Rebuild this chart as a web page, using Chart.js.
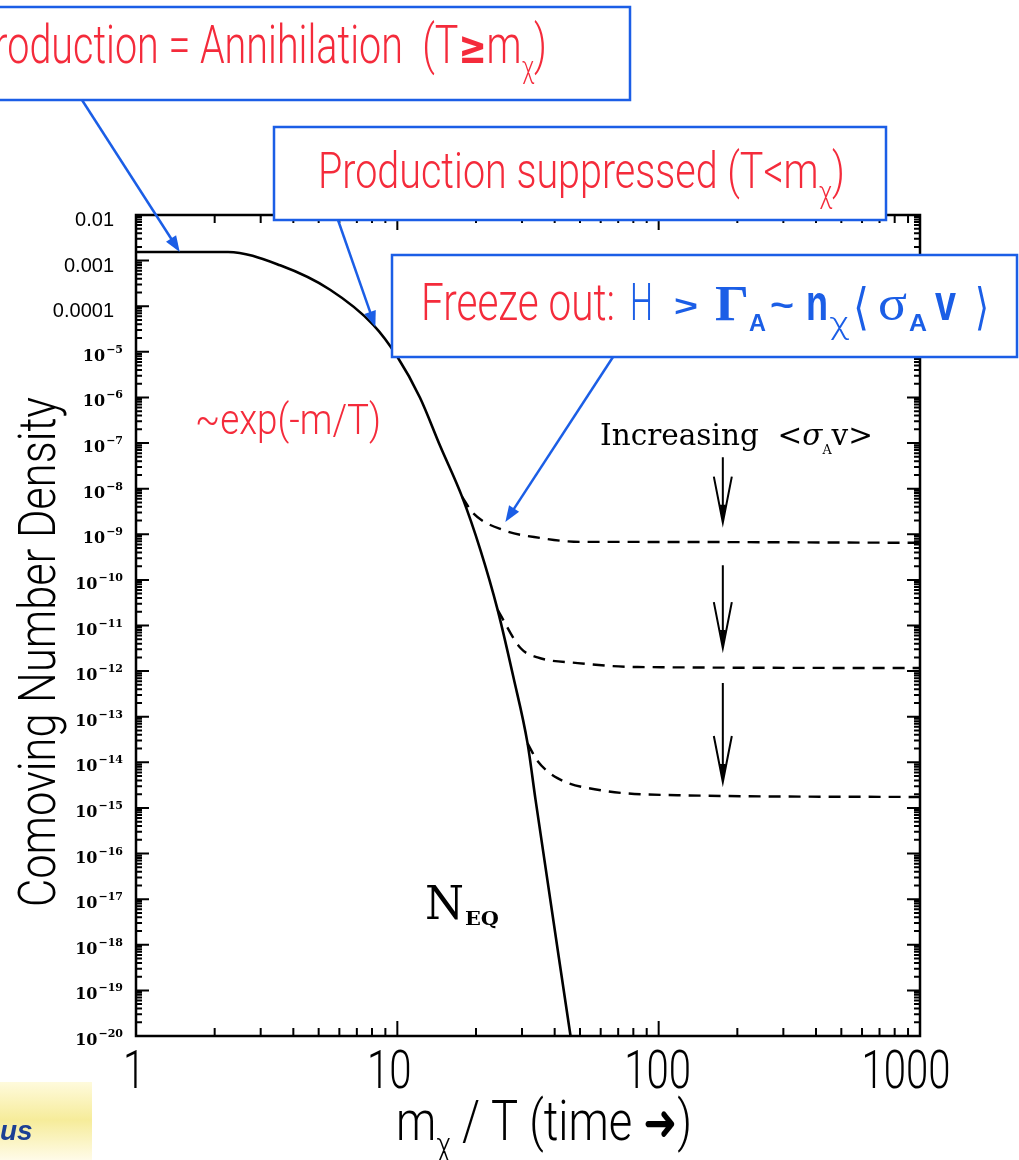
<!DOCTYPE html>
<html><head><meta charset="utf-8">
<script src="https://cdn.jsdelivr.net/npm/chart.js@4.4.1/dist/chart.umd.min.js"></script>
<style>html,body{margin:0;padding:0;background:#fff}#wrap{width:1019px;height:1160px}</style>
</head><body><div id="wrap"><canvas id="c" width="1019" height="1160"></canvas></div>
<script>
/* ---- data ---- */
// equilibrium curve N_EQ
const xEq = [1, 2.25, 3.56, 5.53, 8.09, 10, 12.2, 14.6, 17.7, 20.8, 24.2, 27.8, 31.5, 33.8, 46];
const yEq = [1.55e-3, 1.55e-3, 7.9e-4, 2.3e-4, 3.9e-5, 7.8e-6, 1.0e-6, 8.5e-8, 6.6e-9, 4.5e-10, 2.2e-11, 7.4e-13, 2.6e-14, 1.5e-15, 1e-20];
// freeze-out curves (dashed), increasing <sigma v>
const xFo1 = [17.7, 19.5, 25.5, 35.3, 50.2, 73.5, 1000];
const yFo1 = [6.6e-9, 2.9e-9, 1.23e-9, 8.3e-10, 6.8e-10, 6.8e-10, 6.5e-10];
const xFo2 = [24.2, 29.6, 34.4, 49, 83, 1000];
const yFo2 = [2.2e-11, 3.2e-12, 2.0e-12, 1.5e-12, 1.23e-12, 1.17e-12];
const xFo3 = [31.5, 34.4, 41, 60, 118, 1000];
const yFo3 = [2.6e-14, 1.07e-14, 4.5e-15, 2.45e-15, 1.9e-15, 1.74e-15];

// axis ticks
const xTicks = [1, 10, 100, 1000];
const xTickLabels = ['1', '10', '100', '1000'];
const yExps = [-2, -3, -4, -5, -6, -7, -8, -9, -10, -11, -12, -13, -14, -15, -16, -17, -18, -19, -20];

// arrows pointing into the plot (data coords)
const arrowX = 176;
const arrowsY = [[4.9e-8, 1.8e-9], [2.1e-10, 3.2e-12], [5.5e-13, 3.7e-15]];

/* ---- styles ---- */
const BLUE = '#1b5ee6', RED = '#f42b3b';
const NARROW = 'Roboto, "Liberation Sans", sans-serif';
const SERIF = '"DejaVu Serif", "Liberation Serif", serif';
const $ = id => document.getElementById(id);
const pts = (xs, ys) => xs.map((x, i) => ({x, y: ys[i]}));
const F = s => '300 ' + s + 'px ' + NARROW;

function runsWidth(ctx, runs){
  let w = 0;
  for (const r of runs){ ctx.font = r.font; w += ctx.measureText(r.t).width; }
  return w;
}
// runs drawn one after the other, squeezed to fit a width
function drawRuns(ctx, runs, x, y, width){
  const sx = width ? width / runsWidth(ctx, runs) : 1;
  ctx.save(); ctx.translate(x, y); ctx.scale(sx, 1);
  ctx.textAlign = 'left'; ctx.textBaseline = 'alphabetic';
  let cx = 0;
  for (const r of runs){
    ctx.font = r.font; ctx.fillStyle = r.color || '#000';
    ctx.fillText(r.t, cx, r.dy || 0);
    cx += ctx.measureText(r.t).width;
  }
  ctx.restore();
}
// each piece placed at its own x and width
function drawPieces(ctx, pieces, y){
  ctx.textAlign = 'left'; ctx.textBaseline = 'alphabetic';
  for (const p of pieces){
    ctx.font = p.font; ctx.fillStyle = p.color || '#000';
    const s = p.w / ctx.measureText(p.t).width;
    ctx.save(); ctx.translate(p.x, y + (p.dy || 0)); ctx.scale(s, 1);
    ctx.fillText(p.t, 0, 0); ctx.restore();
  }
}
function arrowLine(ctx, x0, y0, x1, y1, col){
  const a = Math.atan2(y1 - y0, x1 - x0), L = 16, W = 6;
  ctx.strokeStyle = col; ctx.fillStyle = col; ctx.lineWidth = 2.5;
  ctx.beginPath(); ctx.moveTo(x0, y0);
  ctx.lineTo(x1 - L * 0.7 * Math.cos(a), y1 - L * 0.7 * Math.sin(a)); ctx.stroke();
  ctx.beginPath(); ctx.moveTo(x1, y1);
  ctx.lineTo(x1 - L * Math.cos(a) + W * Math.sin(a), y1 - L * Math.sin(a) - W * Math.cos(a));
  ctx.lineTo(x1 - L * Math.cos(a) - W * Math.sin(a), y1 - L * Math.sin(a) + W * Math.cos(a));
  ctx.closePath(); ctx.fill();
}
function box(ctx, x, y, w, h){
  ctx.fillStyle = '#fff'; ctx.fillRect(x, y, w, h);
  ctx.strokeStyle = BLUE; ctx.lineWidth = 2.5; ctx.strokeRect(x, y, w, h);
}

/* ---- frame, ticks, labels, notes ---- */
const decor = {
  id: 'decor',
  afterDraw(chart){
    const ctx = chart.ctx, xs = chart.scales.x, ys = chart.scales.y, ca = chart.chartArea;
    ctx.save();
    ctx.strokeStyle = '#000'; ctx.lineWidth = 2.5;
    ctx.strokeRect(ca.left, ca.top, ca.right - ca.left, ca.bottom - ca.top);

    // x ticks (top + bottom, inward)
    ctx.lineWidth = 2;
    ctx.beginPath();
    for (let d = 1; d < 1000; d *= 10){
      for (let m = 1; m < 10; m++){
        const px = xs.getPixelForValue(d * m), len = m === 1 ? 15 : 8;
        ctx.moveTo(px, ca.bottom); ctx.lineTo(px, ca.bottom - len);
        ctx.moveTo(px, ca.top); ctx.lineTo(px, ca.top + len);
      }
    }
    // y ticks (left + right, inward)
    for (let e = -20; e < -2; e++){
      for (let m = 1; m < 10; m++){
        const py = ys.getPixelForValue(m * Math.pow(10, e)), len = m === 1 ? 13 : 6;
        ctx.moveTo(ca.left, py); ctx.lineTo(ca.left + len, py);
        ctx.moveTo(ca.right, py); ctx.lineTo(ca.right - len, py);
      }
    }
    ctx.stroke();

    // y tick labels
    ctx.fillStyle = '#000'; ctx.textBaseline = 'alphabetic';
    yExps.forEach(e => {
      const py = ys.getPixelForValue(Math.pow(10, e));
      if (e >= -4){
        ctx.font = '20px "Liberation Sans", sans-serif'; ctx.textAlign = 'right';
        ctx.fillText((Math.pow(10, e)).toFixed(-e), 114, py + 11);
      } else {
        const sup = '\u2212' + (-e);
        ctx.font = 'bold 11px ' + SERIF; ctx.textAlign = 'right';
        const sw = ctx.measureText(sup).width;
        ctx.fillText(sup, 123, py + 1);
        ctx.font = 'bold 16px ' + SERIF;
        ctx.fillText('10', 122 - sw, py + 9);
      }
    });

    // x tick labels (slide text, nudged as in the picture)
    const nudge = [-2, -8, -1, -14];
    ctx.font = F(53);
    const sxl = 89 / ctx.measureText('1000').width;
    xTicks.forEach((v, i) => {
      const px = xs.getPixelForValue(v) + nudge[i];
      ctx.save(); ctx.translate(px, 1088); ctx.scale(sxl, 1);
      ctx.textAlign = 'center'; ctx.fillStyle = '#000';
      ctx.fillText(xTickLabels[i], 0, 0); ctx.restore();
    });

    // axis titles
    drawRuns(ctx, [
      {t: 'm', font: F(56)}, {t: '\u03c7', font: F(34), dy: 16},
      {t: ' / T (time ', font: F(56)}, {t: '\u279c', font: 'bold 50px "DejaVu Sans"'}, {t: ')', font: F(56)}
    ], 396, 1140, 296);
    ctx.save(); ctx.translate(55, 907); ctx.rotate(-Math.PI / 2);
    drawRuns(ctx, [{t: 'Comoving Number Density', font: F(52)}], 0, 0, 510);
    ctx.restore();

    // in-plot notes
    drawRuns(ctx, [{t: '~exp(-m/T)', font: F(42), color: RED}], 195, 434, 186);
    drawRuns(ctx, [
      {t: 'Increasing  <', font: '30px ' + SERIF}, {t: '\u03c3', font: 'italic 30px ' + SERIF},
      {t: 'A', font: '13px ' + SERIF, dy: 9}, {t: 'v>', font: '30px ' + SERIF}
    ], 600, 445, 273);
    drawPieces(ctx, [
      {t: 'N', font: '46px ' + SERIF, x: 425, w: 39},
      {t: 'EQ', font: 'bold 18px ' + SERIF, x: 465, w: 34, dy: 6}
    ], 919);

    // down arrows
    const ax = xs.getPixelForValue(arrowX);
    ctx.strokeStyle = '#000'; ctx.lineWidth = 2;
    arrowsY.forEach(([y0, y1]) => {
      const p0 = ys.getPixelForValue(y0), p1 = ys.getPixelForValue(y1);
      ctx.beginPath(); ctx.moveTo(ax, p0); ctx.lineTo(ax, p1);
      ctx.moveTo(ax - 9, p1 - 46); ctx.lineTo(ax, p1); ctx.lineTo(ax + 9, p1 - 46);
      ctx.stroke();
      ctx.beginPath(); ctx.moveTo(ax - 3, p1 - 18); ctx.lineTo(ax, p1); ctx.lineTo(ax + 3, p1 - 18);
      ctx.closePath(); ctx.fillStyle = '#000'; ctx.fill();
    });

    // callout boxes
    box(ctx, -3, 7, 633, 93);
    drawRuns(ctx, [
      {t: 'Production = Annihilation  (T', font: F(54), color: RED},
      {t: '\u2265', font: 'bold 46px "DejaVu Sans"', color: RED},
      {t: 'm', font: F(54), color: RED}, {t: '\u03c7', font: F(32), color: RED, dy: 15},
      {t: ')', font: F(54), color: RED}
    ], -30, 63, 577);
    box(ctx, 274, 127, 612, 93);
    drawRuns(ctx, [
      {t: 'Production suppressed (T<m', font: F(50), color: RED},
      {t: '\u03c7', font: F(32), color: RED, dy: 15}, {t: ')', font: F(50), color: RED}
    ], 318, 188, 527);
    box(ctx, 392, 255, 625, 102);
    drawPieces(ctx, [
      {t: 'Freeze out:', font: F(51), color: RED, x: 421, w: 194},
      {t: 'H', font: F(51), color: BLUE, x: 630, w: 23},
      {t: '>', font: 'bold 30px "Liberation Sans"', color: BLUE, x: 674, w: 24, dy: -4},
      {t: '\u0393', font: 'bold 50px "Liberation Serif"', color: BLUE, x: 715, w: 34},
      {t: 'A', font: 'bold 24px "Liberation Sans"', color: BLUE, x: 749, w: 17, dy: 11},
      {t: '~', font: 'bold 34px "Liberation Sans"', color: BLUE, x: 770, w: 24, dy: -4},
      {t: 'n', font: 'bold 50px "Liberation Sans"', color: BLUE, x: 806, w: 22},
      {t: '\u03c7', font: F(31), color: BLUE, x: 829, w: 20, dy: 14},
      {t: '\u27e8', font: '50px "DejaVu Sans"', color: BLUE, x: 853, w: 16, dy: 4},
      {t: '\u03c3', font: '50px "Liberation Serif"', color: BLUE, x: 878, w: 29},
      {t: 'A', font: 'bold 24px "Liberation Sans"', color: BLUE, x: 909, w: 18, dy: 11},
      {t: 'v', font: 'bold 50px "Liberation Sans"', color: BLUE, x: 935, w: 21},
      {t: '\u27e9', font: '50px "DejaVu Sans"', color: BLUE, x: 975, w: 14, dy: 4}
    ], 320);

    // blue callout arrows
    arrowLine(ctx, 82, 100, xs.getPixelForValue(1.47), ys.getPixelForValue(1.55e-3), BLUE);
    arrowLine(ctx, 338, 220, xs.getPixelForValue(8.24), ys.getPixelForValue(3.5e-5), BLUE);
    arrowLine(ctx, 613, 357, xs.getPixelForValue(25.9), ys.getPixelForValue(1.86e-9), BLUE);

    // logo scrap, bottom left
    const g = ctx.createLinearGradient(0, 1080, 0, 1160);
    g.addColorStop(0, '#fffbe0'); g.addColorStop(0.5, '#f6ec9a'); g.addColorStop(1, '#fffbe8');
    ctx.fillStyle = g; ctx.fillRect(0, 1082, 92, 78);
    ctx.font = 'italic bold 28px "Liberation Sans"'; ctx.fillStyle = '#1c3f94'; ctx.textAlign = 'left';
    ctx.fillText('us', 0, 1140);
    ctx.restore();
  }
};

const solid = {data: pts(xEq, yEq), borderColor: '#000', borderWidth: 2.6};
const dash = d => ({data: d, borderColor: '#000', borderWidth: 2.4, borderDash: [12, 8]});

new Chart($('c'), {
  type: 'scatter',
  data: {datasets: [solid, dash(pts(xFo1, yFo1)), dash(pts(xFo2, yFo2)), dash(pts(xFo3, yFo3))]},
  options: {
    responsive: false, animation: false,
    showLine: true, elements: {point: {radius: 0}, line: {cubicInterpolationMode: 'monotone'}},
    layout: {padding: {left: 136, right: 99, top: 215, bottom: 124}},
    plugins: {legend: {display: false}, tooltip: {enabled: false}},
    scales: {
      x: {type: 'logarithmic', min: 1, max: 1000, display: false},
      y: {type: 'logarithmic', min: 1e-20, max: 1e-2, display: false}
    }
  },
  plugins: [decor]
});
</script></body></html>
